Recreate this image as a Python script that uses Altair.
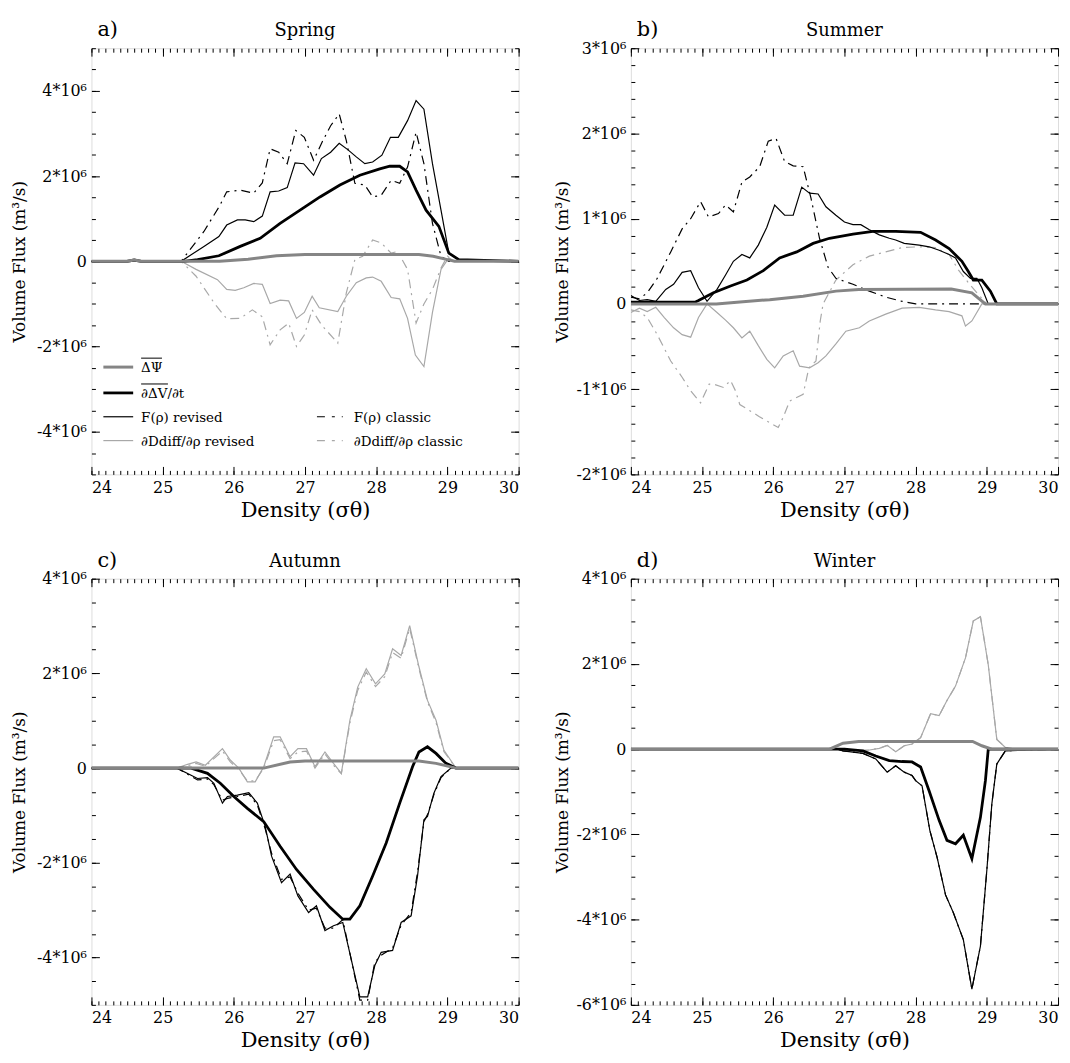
import altair as alt
import pandas as pd
import math

FONT = "DejaVu Serif"

# ---------------- data (values in units of 10^6 m^3/s) ----------------
# Panel a) Spring
A_DPSI_X = [24, 24.5, 24.6, 24.7, 25.0, 25.8, 26.2, 26.6, 27.0, 28.6, 28.8, 29.0, 29.1, 30]
A_DPSI_Y = [0, 0, 0.03, 0, 0, 0, 0.05, 0.13, 0.16, 0.16, 0.12, 0.04, 0, 0]
A_DVDT_X = [24, 24.5, 24.6, 24.7, 25.0, 25.3, 25.49, 25.79, 26.09, 26.37, 26.65, 26.93, 27.21, 27.49,
            27.77, 28.05, 28.19, 28.33, 28.44, 28.56, 28.7, 28.88, 29.02, 29.16, 30]
A_DVDT_Y = [0, 0, 0.03, 0, 0, 0, 0.04, 0.13, 0.35, 0.54, 0.89, 1.2, 1.51, 1.79,
            2.02, 2.17, 2.23, 2.23, 2.1, 1.67, 1.2, 0.82, 0.19, 0.04, 0]
A_FREV_X = [24, 25.26, 25.58, 25.79, 25.9, 26.05, 26.16, 26.28, 26.4, 26.51, 26.63, 26.75, 26.86, 26.98,
            27.12, 27.23, 27.36, 27.48, 27.6, 27.72, 27.84, 27.95, 28.08, 28.2, 28.31, 28.44, 28.56,
            28.67, 28.79, 28.91, 29.02, 29.16, 30]
A_FREV_Y = [0, 0, 0.35, 0.58, 0.85, 0.97, 0.97, 0.93, 1.06, 1.63, 1.65, 1.73, 2.31, 2.29,
            2.02, 2.41, 2.56, 2.77, 2.62, 2.45, 2.29, 2.33, 2.49, 2.91, 2.91, 3.3, 3.77,
            3.57, 2.29, 1.2, 0.19, 0.04, 0]
A_FCLA_X = [24, 25.26, 25.58, 25.8, 25.9, 26.09, 26.28, 26.4, 26.51, 26.63, 26.75, 26.87, 26.99, 27.12,
            27.25, 27.36, 27.48, 27.58, 27.7, 27.84, 27.95, 28.07, 28.21, 28.33, 28.44, 28.56, 28.67,
            28.79, 28.91, 29.02, 30]
A_FCLA_Y = [0, 0, 0.7, 1.3, 1.63, 1.67, 1.6, 1.84, 2.64, 2.56, 2.29, 3.07, 2.91, 2.37,
            2.83, 3.18, 3.46, 2.83, 1.83, 1.79, 1.51, 1.55, 1.9, 1.83, 2.21, 3.03, 2.29,
            0.89, 0.12, 0, 0]
A_DREV_X = [24, 25.26, 25.47, 25.77, 25.9, 26.02, 26.14, 26.28, 26.4, 26.51, 26.65, 26.77, 26.88, 26.99,
            27.1, 27.2, 27.46, 27.58, 27.72, 27.86, 27.95, 28.07, 28.21, 28.33, 28.44, 28.55, 28.67,
            28.79, 28.91, 29.02, 29.1, 30]
A_DREV_Y = [0, 0, -0.19, -0.43, -0.66, -0.68, -0.62, -0.52, -0.54, -0.99, -0.91, -0.93, -1.34, -1.2,
            -0.82, -1.09, -1.18, -0.82, -0.5, -0.39, -0.37, -0.47, -0.85, -0.88, -1.34, -2.2, -2.47,
            -1.2, -0.19, 0.08, 0, 0]
A_DCLA_X = [24, 25.26, 25.47, 25.72, 25.9, 26.09, 26.26, 26.4, 26.51, 26.65, 26.77, 26.88, 26.99, 27.1,
            27.23, 27.46, 27.58, 27.7, 27.81, 27.95, 28.07, 28.21, 28.3, 28.44, 28.56, 28.67, 28.79,
            28.91, 29.0, 29.1, 30]
A_DCLA_Y = [0, 0, -0.35, -0.97, -1.35, -1.34, -1.14, -1.3, -1.96, -1.61, -1.45, -2.0, -1.73, -1.14,
            -1.49, -1.92, -0.74, 0.04, 0.12, 0.5, 0.43, 0.19, 0.23, -0.19, -1.45, -1.0, -0.66,
            -0.16, 0.12, 0, 0]

# Panel b) Summer
B_DPSI_X = [24, 25.2, 25.49, 25.95, 26.42, 26.88, 27.2, 28.5, 28.79, 28.98, 30]
B_DPSI_Y = [0, 0, 0.02, 0.05, 0.09, 0.15, 0.17, 0.175, 0.13, 0, 0]
B_DVDT_X = [24, 24.9, 24.95, 25.16, 25.4, 25.63, 25.86, 26.09, 26.33, 26.56, 26.79, 27.12, 27.4, 27.72,
            28.07, 28.28, 28.47, 28.65, 28.74, 28.81, 28.93, 29.05, 29.14, 30]
B_DVDT_Y = [0.02, 0.02, 0.04, 0.13, 0.21, 0.28, 0.39, 0.54, 0.61, 0.71, 0.77, 0.82, 0.85, 0.85,
            0.84, 0.75, 0.65, 0.5, 0.38, 0.28, 0.28, 0.15, 0, 0]
B_FREV_X = [24.0, 24.12, 24.23, 24.35, 24.49, 24.6, 24.72, 24.84, 24.95, 25.07, 25.21, 25.33, 25.44,
            25.56, 25.67, 25.79, 25.91, 26.02, 26.16, 26.28, 26.4, 26.51, 26.63, 26.74, 26.88, 27.0,
            27.12, 27.23, 27.35, 27.49, 27.63, 27.72, 27.84, 28.05, 28.19, 28.33, 28.47, 28.56, 28.67,
            28.77, 28.86, 28.93, 29.02, 30]
B_FREV_Y = [0.10, 0.04, 0.05, 0.03, 0.17, 0.23, 0.37, 0.39, 0.19, 0.03, 0.17, 0.34, 0.5,
            0.58, 0.54, 0.69, 0.9, 1.16, 1.04, 1.04, 1.37, 1.3, 1.29, 1.14, 1.04, 0.96,
            0.93, 0.93, 0.87, 0.81, 0.77, 0.75, 0.71, 0.69, 0.67, 0.63, 0.58, 0.54, 0.38,
            0.3, 0.3, 0.19, 0, 0]
B_FCLA_X = [24.0, 24.12, 24.23, 24.37, 24.56, 24.72, 24.84, 24.98, 25.09, 25.23, 25.33, 25.44, 25.56,
            25.67, 25.81, 25.93, 26.04, 26.16, 26.28, 26.42, 26.53, 26.65, 26.77, 26.88, 27.12, 27.35,
            27.58, 27.81, 28.0, 30]
B_FCLA_Y = [0.08, 0.06, 0.13, 0.3, 0.61, 0.88, 1.0, 1.2, 1.02, 1.06, 1.16, 1.08, 1.43,
            1.49, 1.61, 1.91, 1.94, 1.67, 1.62, 1.61, 1.24, 0.77, 0.43, 0.3, 0.23, 0.15,
            0.08, 0.03, 0, 0]
B_DREV_X = [24.0, 24.12, 24.23, 24.35, 24.47, 24.6, 24.72, 24.84, 24.95, 25.07, 25.21, 25.33, 25.44,
            25.56, 25.67, 25.79, 25.91, 26.02, 26.14, 26.28, 26.37, 26.51, 26.63, 26.74, 26.88, 27.02,
            27.21, 27.35, 27.58, 27.81, 28.05, 28.28, 28.47, 28.65, 28.7, 28.79, 28.93, 30]
B_DREV_Y = [-0.1, -0.05, -0.09, -0.04, -0.16, -0.28, -0.36, -0.39, -0.16, 0.0, -0.1, -0.19, -0.28,
            -0.4, -0.32, -0.49, -0.65, -0.75, -0.61, -0.55, -0.73, -0.75, -0.69, -0.61, -0.47, -0.32,
            -0.28, -0.2, -0.12, -0.05, -0.04, -0.07, -0.09, -0.14, -0.26, -0.2, 0, 0]
B_DCLA_X = [24.0, 24.12, 24.23, 24.37, 24.56, 24.72, 24.84, 24.98, 25.1, 25.16, 25.3, 25.4, 25.47,
            25.53, 25.8, 26.07, 26.14, 26.23, 26.42, 26.5, 26.6, 26.66, 26.7, 26.88, 27.12, 27.35,
            27.58, 27.81, 28.05, 28.28, 28.47, 28.6, 28.74, 28.88, 29.0, 30]
B_DCLA_Y = [-0.07, -0.09, -0.16, -0.36, -0.67, -0.86, -1.02, -1.16, -0.94, -0.94, -0.98, -0.9, -1.02,
            -1.18, -1.32, -1.45, -1.33, -1.14, -1.06, -0.75, -0.67, -0.2, 0.0, 0.28, 0.46, 0.56,
            0.61, 0.66, 0.67, 0.66, 0.58, 0.4, 0.25, 0.11, 0, 0]

# Panel c) Autumn
C_DPSI_X = [24, 26.42, 26.79, 27.0, 28.6, 28.84, 29.12, 30]
C_DPSI_Y = [0, 0, 0.13, 0.15, 0.15, 0.1, 0, 0]
C_DVDT_X = [24, 25.4, 25.63, 25.81, 26.0, 26.19, 26.42, 26.65, 26.88, 27.12, 27.35, 27.53, 27.63,
            27.77, 27.95, 28.14, 28.33, 28.51, 28.6, 28.72, 28.84, 28.98, 29.12, 30]
C_DVDT_Y = [0, 0, -0.11, -0.32, -0.6, -0.85, -1.13, -1.65, -2.14, -2.56, -2.94, -3.19, -3.19,
            -2.91, -2.28, -1.58, -0.74, 0.03, 0.34, 0.45, 0.31, 0.1, 0, 0]
C_FREV_X = [24, 25.2, 25.49, 25.63, 25.72, 25.84, 25.91, 26.05, 26.21, 26.33, 26.44, 26.53, 26.67,
            26.79, 26.9, 27.05, 27.16, 27.28, 27.4, 27.53, 27.77, 27.88, 27.98, 28.07, 28.23, 28.35,
            28.49, 28.58, 28.67, 28.72, 28.81, 28.91, 29.05, 30]
C_FREV_Y = [0, 0, -0.22, -0.2, -0.32, -0.74, -0.6, -0.57, -0.52, -0.74, -1.23, -1.86, -2.42,
            -2.24, -2.7, -3.05, -2.91, -3.43, -3.33, -3.26, -4.83, -4.83, -4.17, -3.89, -3.85, -3.26,
            -3.12, -2.28, -1.09, -1.02, -0.53, -0.18, 0, 0]
C_FCLA_X = [24, 25.2, 25.49, 25.63, 25.72, 25.84, 25.91, 26.05, 26.21, 26.33, 26.44, 26.53, 26.67,
            26.79, 26.9, 27.05, 27.16, 27.28, 27.4, 27.53, 27.77, 27.88, 27.98, 28.07, 28.23, 28.35,
            28.49, 28.58, 28.67, 28.72, 28.81, 28.91, 29.05, 30]
C_FCLA_Y = [0, 0, -0.25, -0.23, -0.35, -0.68, -0.64, -0.6, -0.55, -0.78, -1.28, -1.8, -2.35,
            -2.3, -2.64, -3.0, -2.96, -3.38, -3.38, -3.2, -4.9, -4.9, -4.1, -3.95, -3.8, -3.32,
            -3.05, -2.2, -1.13, -0.98, -0.56, -0.2, 0, 0]
C_DREV_X = [24, 25.2, 25.35, 25.47, 25.6, 25.84, 25.95, 26.07, 26.19, 26.3, 26.42, 26.56, 26.65,
            26.79, 26.9, 27.02, 27.14, 27.28, 27.4, 27.51, 27.63, 27.74, 27.86, 27.99, 28.12, 28.23,
            28.35, 28.47, 28.6, 28.72, 28.84, 28.95, 29.12, 30]
C_DREV_Y = [0, 0, 0.08, 0.13, 0.06, 0.41, 0.17, 0, -0.29, -0.29, 0.03, 0.66, 0.66,
            0.24, 0.41, 0.41, 0.03, 0.34, 0.1, -0.11, 1.01, 1.71, 2.1, 1.78, 1.99, 2.52,
            2.38, 3.01, 2.14, 1.43, 1.01, 0.38, 0, 0]
C_DCLA_X = [24, 25.2, 25.35, 25.47, 25.6, 25.84, 25.95, 26.07, 26.19, 26.3, 26.42, 26.56, 26.65,
            26.79, 26.9, 27.02, 27.14, 27.28, 27.4, 27.51, 27.63, 27.74, 27.86, 27.99, 28.12, 28.23,
            28.35, 28.47, 28.6, 28.72, 28.84, 28.95, 29.12, 30]
C_DCLA_Y = [0, 0, 0.05, 0.1, 0.04, 0.36, 0.13, -0.03, -0.27, -0.27, 0.0, 0.58, 0.6,
            0.2, 0.34, 0.36, 0.0, 0.3, 0.06, -0.12, 0.95, 1.64, 2.03, 1.72, 1.93, 2.44,
            2.32, 2.95, 2.1, 1.4, 0.96, 0.35, 0, 0]

# Panel d) Winter
D_DPSI_X = [24, 26.79, 26.98, 27.2, 28.8, 28.93, 29.07, 30]
D_DPSI_Y = [0, 0, 0.14, 0.18, 0.18, 0.08, 0, 0]
D_DVDT_X = [24, 27.0, 27.26, 27.44, 27.63, 27.81, 27.95, 28.07, 28.19, 28.33, 28.44, 28.56,
            28.67, 28.79, 28.91, 28.98, 29.02, 30]
D_DVDT_Y = [0, 0, -0.04, -0.16, -0.27, -0.29, -0.3, -0.42, -0.98, -1.67, -2.14, -2.22,
            -2.02, -2.57, -1.6, -0.74, 0, 0]
D_FREV_X = [24, 26.9, 26.98, 27.26, 27.44, 27.6, 27.72, 27.84, 27.95, 28.0, 28.09, 28.2, 28.3,
            28.42, 28.53, 28.67, 28.79, 28.91, 29.0, 29.07, 29.14, 29.26, 30]
D_FREV_Y = [0, 0, -0.04, -0.1, -0.23, -0.54, -0.39, -0.54, -0.62, -0.74, -0.86, -1.91, -2.53,
            -3.42, -3.84, -4.47, -5.63, -4.62, -2.84, -1.29, -0.35, -0.04, 0]
D_DREV_X = [24, 26.88, 27.16, 27.35, 27.49, 27.6, 27.72, 27.84, 27.95, 28.07, 28.21, 28.33, 28.44,
            28.56, 28.7, 28.81, 28.91, 29.02, 29.14, 29.26, 29.4, 30]
D_DREV_Y = [0, 0, -0.04, -0.02, 0.02, 0.09, -0.06, 0.08, 0.12, 0.27, 0.83, 0.79, 1.14,
            1.48, 2.14, 3.01, 3.11, 1.98, 0.23, 0.04, 0, 0]

SERIES_LABELS = ["ΔΨ", "∂ΔV/∂t", "F(ρ) revised", "F(ρ) classic",
                 "∂Ddiff/∂ρ revised", "∂Ddiff/∂ρ classic"]

# ---------------- styles ----------------
GREY_THICK = "#858585"
GREY_THIN = "#a8a8a8"
DASHDOT = [9, 5, 2, 5]
STYLES = {
    "dcla": dict(color=GREY_THIN, strokeWidth=1.2, strokeDash=DASHDOT),
    "drev": dict(color=GREY_THIN, strokeWidth=1.2),
    "fcla": dict(color="black", strokeWidth=1.2, strokeDash=DASHDOT),
    "frev": dict(color="black", strokeWidth=1.2),
    "dvdt": dict(color="black", strokeWidth=2.8),
    "dpsi": dict(color=GREY_THICK, strokeWidth=3),
}
ORDER = ["dcla", "drev", "fcla", "frev", "dvdt", "dpsi"]

W, H = 430, 429


def make_panel(series, ymin, ymax, ystep, yminor, title, letter, ytpad, legend=False):
    xs = alt.Scale(domain=[24, 30], nice=False, zero=False)
    ys = alt.Scale(domain=[ymin, ymax], nice=False, zero=False)
    layers = []
    for key in ORDER:
        if key not in series:
            continue
        xv, yv = series[key]
        df = pd.DataFrame({"x": xv, "y": yv})
        layers.append(
            alt.Chart(df).mark_line(clip=True, **STYLES[key]).encode(
                x=alt.X("x:Q", scale=xs, axis=None),
                y=alt.Y("y:Q", scale=ys, axis=None),
            )
        )
    frame = pd.DataFrame({"x": [24, 30], "y": [ymin, ymax]})
    xmaj = list(range(24, 31))
    xmin_ = [round(24 + 0.1 * i, 2) for i in range(61)]
    first = math.ceil(ymin / ystep - 1e-9) * ystep
    ymaj = []
    v = first
    while v <= ymax + 1e-9:
        ymaj.append(round(v, 3))
        v += ystep
    n_minor = int(round((ymax - ymin) / yminor))
    ymin_ = [round(ymin + yminor * i, 3) for i in range(n_minor + 1)]
    label_expr = "datum.value == 0 ? '0' : datum.value + '*10⁶'"

    def ax(orient, values, size, labels=False, title=None, expr=None, tsize=None, tpad=4):
        kw = dict(orient=orient, values=values, tickSize=size, offset=-size, domain=False,
                  grid=False, labels=labels, ticks=True, tickColor="black", tickWidth=1)
        if labels:
            kw.update(labelFontSize=16, labelFont=FONT, labelColor="black", labelPadding=5)
            if expr:
                kw["labelExpr"] = expr
            else:
                kw["format"] = "d"
        kw["title"] = title
        if title:
            kw.update(titleFont=FONT, titleFontSize=tsize, titleFontWeight="normal",
                      titleColor="black", titlePadding=tpad)
        return alt.Axis(**kw)

    axis_layers = [
        (ax("bottom", xmaj, 8, True, "Density  (σθ)", tsize=21, tpad=4),
         ax("left", ymaj, 8, True, "Volume Flux (m³/s)", label_expr, tsize=17, tpad=ytpad)),
        (ax("bottom", xmin_, 4), ax("left", ymin_, 4)),
        (ax("top", xmaj, 8), ax("right", ymaj, 8)),
        (ax("top", xmin_, 4), ax("right", ymin_, 4)),
    ]
    for axx, axy in axis_layers:
        layers.append(
            alt.Chart(frame).mark_point(opacity=0).encode(
                x=alt.X("x:Q", scale=xs, axis=axx),
                y=alt.Y("y:Q", scale=ys, axis=axy),
            )
        )
    # panel letter and season title
    layers.append(
        alt.Chart(pd.DataFrame({"t": [letter]})).mark_text(
            align="left", baseline="alphabetic", font=FONT, fontSize=21, color="black"
        ).encode(x=alt.value(6), y=alt.value(-12), text="t:N")
    )
    layers.append(
        alt.Chart(pd.DataFrame({"t": [title]})).mark_text(
            align="center", baseline="alphabetic", font=FONT, fontSize=18, color="black"
        ).encode(x=alt.value(W / 2), y=alt.value(-12), text="t:N")
    )
    if legend:
        rows = [
            ("dpsi", SERIES_LABELS[0], 12, 42, 50, 321, 21),
            ("dvdt", SERIES_LABELS[1], 12, 42, 50, 347, 27),
            ("frev", SERIES_LABELS[2], 12, 42, 50, 371, 0),
            ("fcla", SERIES_LABELS[3], 227, 253, 264, 371, 0),
            ("drev", SERIES_LABELS[4], 12, 42, 50, 395, 0),
            ("dcla", SERIES_LABELS[5], 227, 253, 264, 395, 0),
        ]
        for key, lab, x0, x1, xt, yy, over in rows:
            st = dict(STYLES[key])
            if "strokeDash" in st:
                st["strokeDash"] = [8, 7, 3, 7]
            layers.append(
                alt.Chart(pd.DataFrame({"t": [lab]})).mark_rule(**st).encode(
                    x=alt.value(x0), x2=alt.value(x1), y=alt.value(yy)
                )
            )
            layers.append(
                alt.Chart(pd.DataFrame({"t": [lab]})).mark_text(
                    align="left", baseline="middle", font=FONT, fontSize=13.5, color="black"
                ).encode(x=alt.value(xt), y=alt.value(yy + 1), text="t:N")
            )
            if over:
                layers.append(
                    alt.Chart(pd.DataFrame({"t": [lab]})).mark_rule(
                        color="black", strokeWidth=1
                    ).encode(x=alt.value(xt), x2=alt.value(xt + over), y=alt.value(yy - 9))
                )
    return alt.layer(*layers).resolve_axis(x="independent", y="independent").properties(
        width=W, height=H
    )


pa = make_panel({
    "dpsi": (A_DPSI_X, A_DPSI_Y), "dvdt": (A_DVDT_X, A_DVDT_Y),
    "frev": (A_FREV_X, A_FREV_Y), "fcla": (A_FCLA_X, A_FCLA_Y),
    "drev": (A_DREV_X, A_DREV_Y), "dcla": (A_DCLA_X, A_DCLA_Y),
}, -5, 5, 2, 0.5, "Spring", "a)", 8, legend=True)

pb = make_panel({
    "dpsi": (B_DPSI_X, B_DPSI_Y), "dvdt": (B_DVDT_X, B_DVDT_Y),
    "frev": (B_FREV_X, B_FREV_Y), "fcla": (B_FCLA_X, B_FCLA_Y),
    "drev": (B_DREV_X, B_DREV_Y), "dcla": (B_DCLA_X, B_DCLA_Y),
}, -2, 3, 1, 0.2, "Summer", "b)", 4)

pc = make_panel({
    "dpsi": (C_DPSI_X, C_DPSI_Y), "dvdt": (C_DVDT_X, C_DVDT_Y),
    "frev": (C_FREV_X, C_FREV_Y), "fcla": (C_FCLA_X, C_FCLA_Y),
    "drev": (C_DREV_X, C_DREV_Y), "dcla": (C_DCLA_X, C_DCLA_Y),
}, -5, 4, 2, 0.5, "Autumn", "c)", 8)

pd_ = make_panel({
    "dpsi": (D_DPSI_X, D_DPSI_Y), "dvdt": (D_DVDT_X, D_DVDT_Y),
    "frev": (D_FREV_X, D_FREV_Y), "fcla": (D_FREV_X, D_FREV_Y),
    "drev": (D_DREV_X, D_DREV_Y), "dcla": (D_DREV_X, D_DREV_Y),
}, -6, 4, 2, 0.5, "Winter", "d)", 4)

chart = alt.vconcat(
    alt.hconcat(pa, pb, spacing=31),
    alt.hconcat(pc, pd_, spacing=31),
    spacing=28,
).properties(
    padding={"left": 2, "top": 7, "right": 0, "bottom": 0}
).configure_view(stroke="black", strokeWidth=1.2).configure(background="white")

chart.save("out.html", embed_options={"renderer": "svg", "actions": False})
